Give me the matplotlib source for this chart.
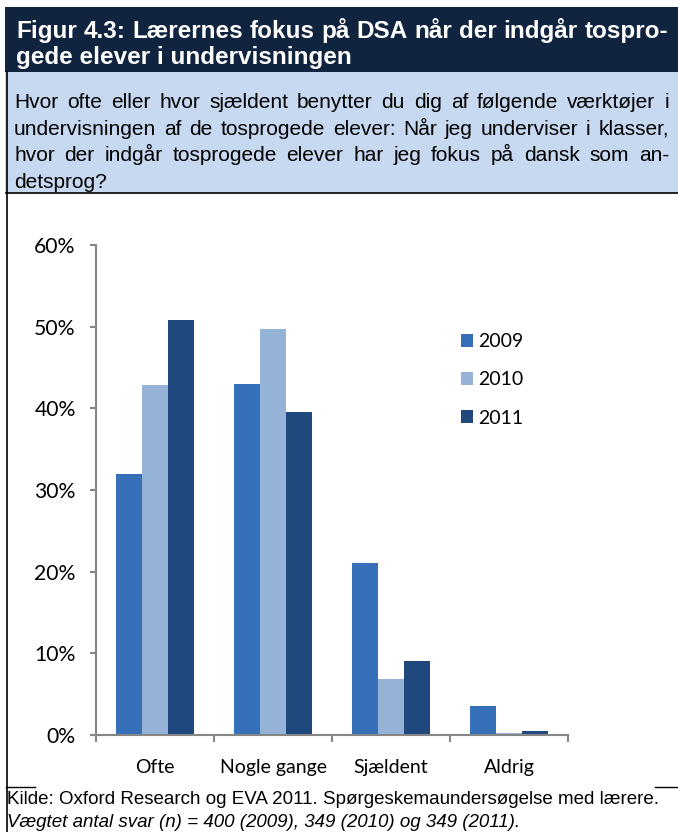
import numpy as np
import matplotlib.pyplot as plt
from matplotlib.patches import Rectangle
from matplotlib.lines import Line2D

W, H = 678, 832

categories = ['Ofte', 'Nogle gange', 'Sjældent', 'Aldrig']
years = ['2009', '2010', '2011']
v2009 = [32.0, 43.0, 21.1, 3.6]
v2010 = [42.8, 49.7, 6.9, 0.3]
v2011 = [50.8, 39.6, 9.1, 0.5]
yticks = [0, 10, 20, 30, 40, 50, 60]

title_lines = ['Figur 4.3: Lærernes fokus på DSA når der indgår tospro-',
               'gede elever i undervisningen']
question_lines = ['Hvor ofte eller hvor sjældent benytter du dig af følgende værktøjer i',
                  'undervisningen af de tosprogede elever: Når jeg underviser i klasser,',
                  'hvor der indgår tosprogede elever har jeg fokus på dansk som an-',
                  'detsprog?']
source_line = 'Kilde: Oxford Research og EVA 2011. Spørgeskemaundersøgelse med lærere.'
note_line = 'Vægtet antal svar (n) = 400 (2009), 349 (2010) og 349 (2011).'

colors = ['#3570b9', '#95b3d7', '#1f497d']


def fx(x):
    return x / W


def fy(y):
    return 1 - y / H


fig = plt.figure(figsize=(W / 100, H / 100), dpi=100)
renderer = fig.canvas.get_renderer()


def text_width(s, size, **kw):
    t = fig.text(0, 0, s, fontsize=size, **kw)
    w = t.get_window_extent(renderer).width
    t.remove()
    return w


def fit_size(s, width, **kw):
    return 10 * width / text_width(s, 10, **kw)


def justified(s, x0, x1, y, size, **kw):
    # spread the words so the line runs from x0 to x1, like the report layout
    words = s.split(' ')
    widths = [text_width(w, size, **kw) for w in words]
    gap = (x1 - x0 - sum(widths)) / (len(words) - 1)
    x = x0
    for w, wd in zip(words, widths):
        fig.text(fx(x), fy(y), w, fontsize=size, va='baseline', ha='left', **kw)
        x += wd + gap


#-- header boxes
fig.patches.append(Rectangle((fx(5), fy(72)), fx(W - 5), 65 / H, transform=fig.transFigure,
                             facecolor='#11243f', edgecolor='none'))
fig.patches.append(Rectangle((fx(5), fy(193)), fx(W - 5), 121 / H, transform=fig.transFigure,
                             facecolor='#c6d9f1', edgecolor='none'))
fig.lines.append(Line2D([fx(6.5), fx(6.5)], [fy(72), 0], transform=fig.transFigure, color='black', lw=1.2))
fig.lines.append(Line2D([fx(6), 1], [fy(193), fy(193)], transform=fig.transFigure, color='black', lw=1.2))
fig.lines.append(Line2D([fx(6), fx(35)], [fy(787), fy(787)], transform=fig.transFigure, color='black', lw=1))
fig.lines.append(Line2D([fx(655), 1], [fy(787), fy(787)], transform=fig.transFigure, color='black', lw=1))

tkw = dict(family='Liberation Sans', fontweight='bold', color='white')
ts = fit_size(title_lines[1], 336, **tkw)
justified(title_lines[0], 16, 668, 38, ts, **tkw)
fig.text(fx(16), fy(64), title_lines[1], fontsize=ts, va='baseline', ha='left', **tkw)

qkw = dict(family='Liberation Sans', color='black')
qs = fit_size(question_lines[1], 640, **qkw)
for i, t in enumerate(question_lines[:3]):
    justified(t, 14, 669, 108.5 + 26.3 * i, qs, **qkw)
fig.text(fx(14), fy(187.5), question_lines[3], fontsize=qs, va='baseline', ha='left', **qkw)

ss = fit_size(source_line, 655, family='Liberation Sans')
fig.text(fx(7), fy(804), source_line, fontsize=ss, family='Liberation Sans', va='baseline')
fig.text(fx(7), fy(827), note_line, fontsize=ss, family='Liberation Sans', style='italic', va='baseline')

#-- chart
cs = fit_size('Nogle gange', 107, family='Lato')
ax = fig.add_axes([fx(96), fy(735), fx(568 - 96), (735 - 245) / H])
x = np.arange(len(categories))
bw = 0.22
for k, (vals, yr) in enumerate(zip([v2009, v2010, v2011], years)):
    ax.bar(x + (k - 1) * bw, vals, bw, color=colors[k], label=yr)

ax.set_xlim(-0.5, len(categories) - 0.5)
ax.set_ylim(0, 60)
ax.set_yticks(yticks)
ax.set_yticklabels([f'{v}%' for v in yticks], family='Lato', fontsize=cs * 1.08)
ax.set_xticks(np.arange(-0.5, len(categories)), minor=False)
ax.set_xticklabels([])
ax.set_xticks(x, minor=True)
ax.set_xticklabels(categories, minor=True, family='Lato', fontsize=cs)
ax.tick_params(axis='x', which='minor', length=0, pad=17)
ax.tick_params(axis='x', which='major', length=5, color='#868686', width=1.5)
ax.tick_params(axis='y', length=4.3, color='#868686', width=1.5, pad=10.3)
for s in ['top', 'right']:
    ax.spines[s].set_visible(False)
for s in ['left', 'bottom']:
    ax.spines[s].set_color('#868686')
    ax.spines[s].set_linewidth(1.5)

cpx = cs * 100 / 72
ax.legend(loc='center left', bbox_to_anchor=(fx(461), fy(380)), bbox_transform=fig.transFigure,
          frameon=False, prop={'family': 'Lato', 'size': cs}, borderpad=0, borderaxespad=0,
          handlelength=12 / cpx, handleheight=12 / cpx, handletextpad=5.5 / cpx,
          labelspacing=(44.5 - 1.2 * cpx) / cpx)

fig.savefig('out.png', dpi=100)
